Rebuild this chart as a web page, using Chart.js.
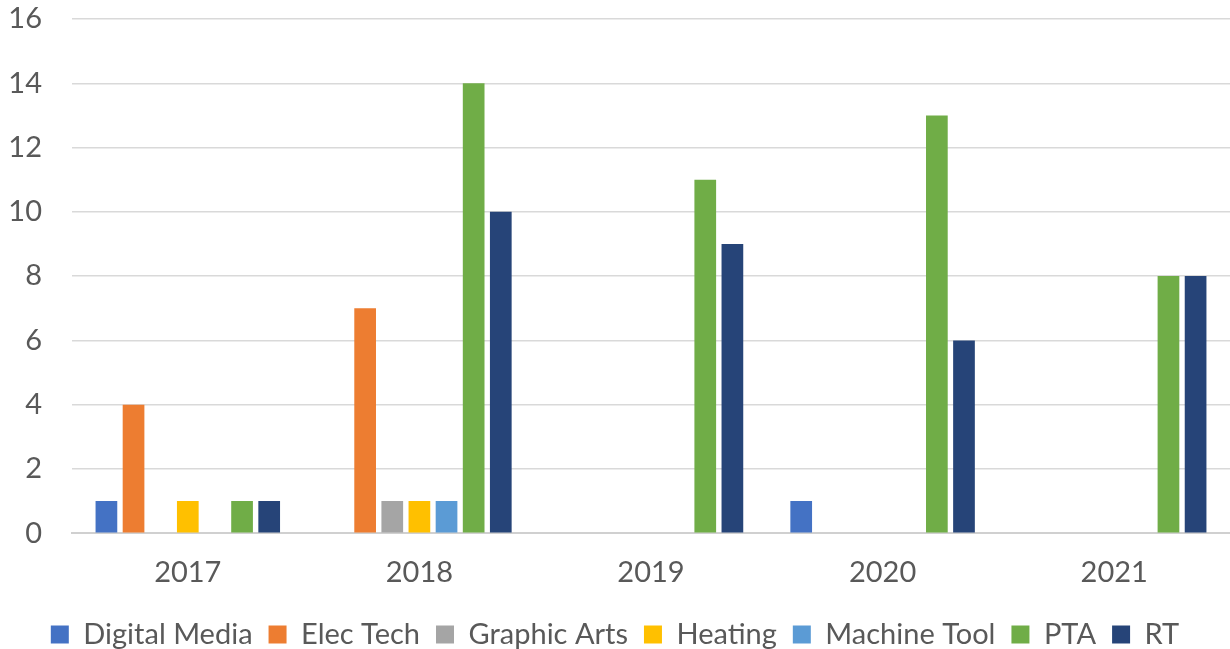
<!DOCTYPE html>
<html>
<head>
<meta charset="utf-8">
<script src="https://cdn.jsdelivr.net/npm/chart.js@4"></script>
<style>
  html, body { margin: 0; padding: 0; background: #fff; }
  #wrap { width: 1230px; height: 649px; }
</style>
</head>
<body>
<div id="wrap"><canvas id="chart-programs"></canvas></div>
<script>
var years = ['2017', '2018', '2019', '2020', '2021'];

var digitalMedia = [1, 0, 0, 1, 0];
var elecTech     = [4, 7, 0, 0, 0];
var graphicArts  = [0, 1, 0, 0, 0];
var heating      = [1, 1, 0, 0, 0];
var machineTool  = [0, 1, 0, 0, 0];
var pta          = [1, 14, 11, 13, 8];
var rt           = [1, 10, 9, 6, 8];

var seriesNames  = ['Digital Media', 'Elec Tech', 'Graphic Arts', 'Heating', 'Machine Tool', 'PTA', 'RT'];
var seriesValues = [digitalMedia, elecTech, graphicArts, heating, machineTool, pta, rt];
var seriesColors = ['#4472C4', '#ED7D31', '#A5A5A5', '#FFC000', '#5B9BD5', '#70AD47', '#264478'];

var datasets = [];
for (let i = 0; i < seriesNames.length; i++) {
    datasets.push({
        label: seriesNames[i],
        data: seriesValues[i],
        backgroundColor: seriesColors[i],
        borderWidth: 0,
        categoryPercentage: 0.82,
        barPercentage: 0.8
    });
}

var fontFamily = "Lato, 'Open Sans', sans-serif";

const ctx = document.getElementById('chart-programs').getContext('2d');
new Chart(ctx, {
    type: 'bar',
    data: { labels: years, datasets: datasets },
    options: {
        responsive: true,
        maintainAspectRatio: false,
        animation: false,
        layout: { padding: { top: 0, right: 0, left: 0, bottom: -10 } },
        scales: {
            x: {
                grid: { display: false },
                border: { display: true, color: '#d0d0d0', width: 2 },
                ticks: { color: '#595959', font: { family: fontFamily, size: 29 }, padding: 14 }
            },
            y: {
                min: 0,
                max: 16,
                afterFit: function (scale) {
                    scale.width = 72;
                    scale.paddingTop = 19;
                    scale.paddingBottom = 0;
                },
                grid: { color: '#d9d9d9', lineWidth: 1.5, drawTicks: false },
                border: { display: false },
                ticks: { stepSize: 2, color: '#595959', font: { family: fontFamily, size: 29 }, padding: 30 }
            }
        },
        plugins: {
            tooltip: { enabled: false },
            legend: {
                position: 'bottom',
                labels: {
                    color: '#595959',
                    font: { family: fontFamily, size: 29 },
                    boxWidth: 18,
                    boxHeight: 18,
                    padding: 16
                }
            }
        }
    }
});
</script>
</body>
</html>
